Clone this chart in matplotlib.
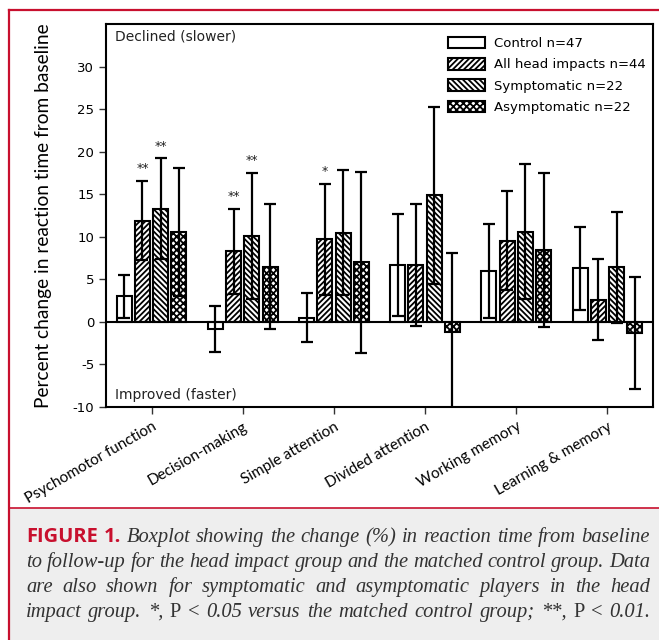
import matplotlib
matplotlib.use("Agg")
import matplotlib.pyplot as plt
import numpy as np
from matplotlib.patches import Rectangle
from matplotlib.lines import Line2D

# ---------------- data ----------------
categories = ["Psychomotor function", "Decision-making", "Simple attention",
              "Divided attention", "Working memory", "Learning & memory"]
series_names = ["Control n=47", "All head impacts n=44",
                "Symptomatic n=22", "Asymptomatic n=22"]
control = [3.0, -0.8, 0.5, 6.7, 6.0, 6.3]
control_err = [2.5, 2.7, 2.85, 5.95, 5.5, 4.85]
all_head = [11.9, 8.3, 9.7, 6.7, 9.55, 2.6]
all_head_err = [4.65, 5.0, 6.5, 7.2, 5.85, 4.75]
symptomatic = [13.3, 10.1, 10.5, 14.9, 10.6, 6.4]
symptomatic_err = [5.9, 7.4, 7.3, 10.4, 7.9, 6.5]
asymptomatic = [10.6, 6.5, 7.0, -1.2, 8.45, -1.3]
asymptomatic_err = [7.5, 7.3, 10.6, 9.3, 9.0, 6.6]
sig_control = ["", "", "", "", "", ""]
sig_all_head = ["**", "**", "*", "", "", ""]
sig_symptomatic = ["**", "**", "", "", "", ""]
sig_asymptomatic = ["", "", "", "", "", ""]
yticks = [-10, -5, 0, 5, 10, 15, 20, 25, 30]

values = [control, all_head, symptomatic, asymptomatic]
errors = [control_err, all_head_err, symptomatic_err, asymptomatic_err]
sigs = [sig_control, sig_all_head, sig_symptomatic, sig_asymptomatic]
hatches = [None, "//////", "\\\\\\\\\\\\", "xxxxx"]

RED = "#c8102e"
W, H = 659, 640
plt.rcParams["hatch.linewidth"] = 1.3

fig = plt.figure(figsize=(W / 100, H / 100), dpi=100)
fig.patch.set_facecolor("white")

# caption background & red frame
fig.patches.append(Rectangle((9 / W, 0), 1, (640 - 508) / H, transform=fig.transFigure,
                             facecolor="#eeeeee", edgecolor="none", zorder=0))
fig.lines.append(Line2D([9 / W, 9 / W], [0, 1 - 10 / H], transform=fig.transFigure,
                        color=RED, lw=1.6))
fig.lines.append(Line2D([9 / W, 1], [1 - 10 / H, 1 - 10 / H], transform=fig.transFigure,
                        color=RED, lw=1.6))
fig.lines.append(Line2D([9 / W, 1], [1 - 508 / H, 1 - 508 / H], transform=fig.transFigure,
                        color=RED, lw=1.2))

ax = fig.add_axes([106 / W, 1 - 407 / H, (653 - 106) / W, (407 - 24) / H])
x = np.arange(len(categories))
step = 0.2
bw = 0.165
for i, (vals, errs, sg, hat, name) in enumerate(zip(values, errors, sigs, hatches, series_names)):
    pos = x + (i - 1.5) * step
    ax.bar(pos, vals, width=bw, facecolor="white", edgecolor="black", linewidth=1.5,
           hatch=hat, label=name, zorder=2)
    ax.errorbar(pos, vals, yerr=errs, fmt="none", ecolor="black", elinewidth=1.6,
                capsize=4.5, capthick=1.6, zorder=3)
    for p, v, e, s in zip(pos, vals, errs, sg):
        if s:
            ax.text(p, v + e + 0.7, s, ha="center", va="bottom", fontsize=9,
                    family="DejaVu Sans", color="#222222")

ax.axhline(0, color="black", lw=1.5, zorder=4)
ax.set_xlim(-0.5, 5.5)
ax.set_ylim(-10, 35)
ax.set_yticks(yticks)
ax.set_yticklabels([str(t) for t in yticks], fontsize=9.5, family="DejaVu Sans")
ax.set_xticks(x)
ax.set_xticklabels(categories, rotation=30, ha="right", rotation_mode="anchor",
                   fontsize=11, family="Lato")
ax.tick_params(axis="both", direction="out", length=5, width=1, color="#333333")
ax.tick_params(axis="x", pad=4)
for sp in ax.spines.values():
    sp.set_linewidth(1.5)
ax.set_ylabel("Percent change in reaction time from baseline", fontsize=13.8, family="Lato")
ax.yaxis.set_label_coords(-0.098, 0.5)

ax.text(0.016, 0.985, "Declined (slower)", transform=ax.transAxes, ha="left", va="top",
        fontsize=10, family="DejaVu Sans", color="#222222")
ax.text(0.016, 0.012, "Improved (faster)", transform=ax.transAxes, ha="left", va="bottom",
        fontsize=10, family="DejaVu Sans", color="#222222")

leg = ax.legend(loc="upper left", bbox_to_anchor=(0.625, 0.967), frameon=False,
                fontsize=9.5, handlelength=2.8, handleheight=1.0, handletextpad=0.7,
                labelspacing=0.6, borderpad=0, borderaxespad=0)
for t in leg.get_texts():
    t.set_family("DejaVu Sans")

# ---------------- caption (justified) ----------------
cap_sans = dict(family="Open Sans", weight="bold", color=RED, fontsize=14.5)
cap_it = dict(family="Liberation Serif", style="italic", color="#333333", fontsize=14.8)
cap_up = dict(family="Liberation Serif", style="normal", color="#333333", fontsize=14.8)

lines = [
    [("FIGURE", cap_sans), ("1.", cap_sans)] +
    [(w, cap_it) for w in "Boxplot showing the change (%) in reaction time from baseline".split()],
    [(w, cap_it) for w in "to follow-up for the head impact group and the matched control group. Data".split()],
    [(w, cap_it) for w in "are also shown for symptomatic and asymptomatic players in the head".split()],
    [("impact", cap_it), ("group.", cap_it), ("*,", cap_it), ("P", cap_up), ("<", cap_up),
     ("0.05", cap_it), ("versus", cap_it), ("the", cap_it), ("matched", cap_it),
     ("control", cap_it), ("group;", cap_it), ("**,", cap_it), ("P", cap_up), ("<", cap_up),
     ("0.01.", cap_it)],
]
baselines = [542, 567, 592, 617]
x0, x1 = 26, 650
renderer = fig.canvas.get_renderer()
for toks, yb in zip(lines, baselines):
    objs = [fig.text(0, 1 - yb / H, s, va="baseline", ha="left", **p) for s, p in toks]
    widths = [o.get_window_extent(renderer).width for o in objs]
    gap = (x1 - x0 - sum(widths)) / (len(objs) - 1)
    cx = x0
    for o, w_ in zip(objs, widths):
        o.set_x(cx / W)
        cx += w_ + gap

fig.savefig("out.png", dpi=100)
